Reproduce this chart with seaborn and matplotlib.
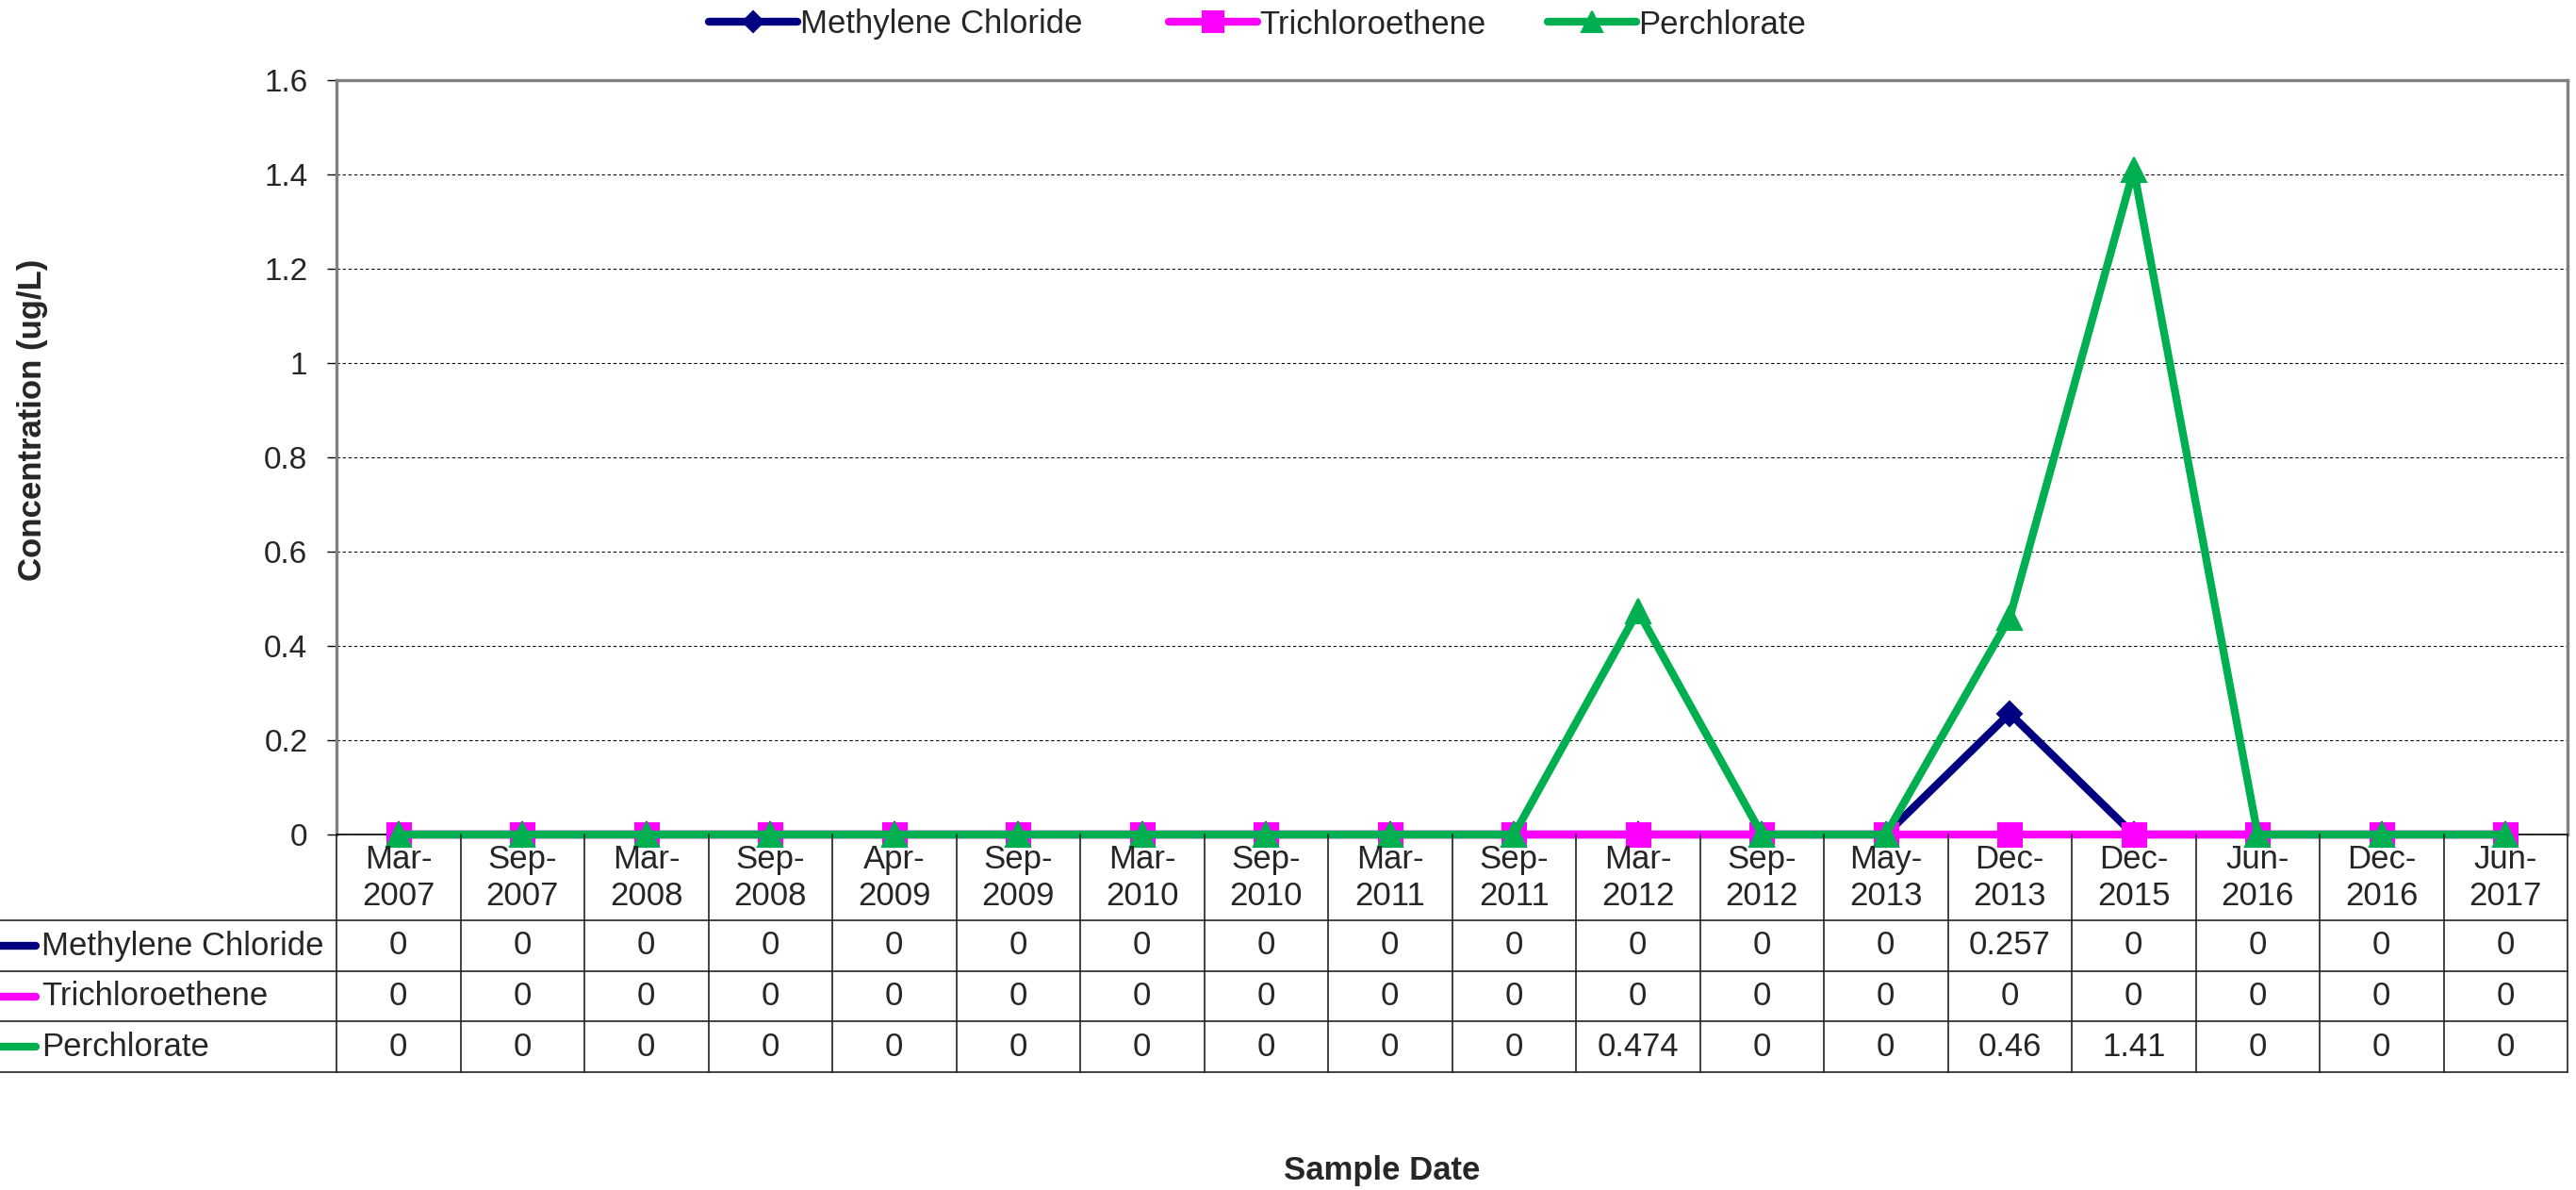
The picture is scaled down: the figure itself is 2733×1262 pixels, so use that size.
import numpy as np
import pandas as pd
import matplotlib
matplotlib.use("Agg")
import matplotlib.pyplot as plt
from matplotlib.lines import Line2D
from matplotlib.ticker import FuncFormatter
from matplotlib.transforms import blended_transform_factory
import seaborn as sns

# ---- data -------------------------------------------------------------
sample_dates = ["Mar-2007", "Sep-2007", "Mar-2008", "Sep-2008", "Apr-2009",
                "Sep-2009", "Mar-2010", "Sep-2010", "Mar-2011", "Sep-2011",
                "Mar-2012", "Sep-2012", "May-2013", "Dec-2013", "Dec-2015",
                "Jun-2016", "Dec-2016", "Jun-2017"]
methylene_chloride = [0, 0, 0, 0, 0, 0, 0, 0, 0, 0, 0, 0, 0, 0.257, 0, 0, 0, 0]
trichloroethene = [0, 0, 0, 0, 0, 0, 0, 0, 0, 0, 0, 0, 0, 0, 0, 0, 0, 0]
perchlorate = [0, 0, 0, 0, 0, 0, 0, 0, 0, 0, 0.474, 0, 0, 0.46, 1.41, 0, 0, 0]

series_names = ["Methylene Chloride", "Trichloroethene", "Perchlorate"]
series_values = [methylene_chloride, trichloroethene, perchlorate]
series_colors = ["#000080", "#FF00FF", "#00B050"]
series_markers = ["D", "s", "^"]
series_msize = [13.5, 18, 19]

y_ticks = [0, 0.2, 0.4, 0.6, 0.8, 1.0, 1.2, 1.4, 1.6]

# ---- figure geometry (pixels) ----------------------------------------
W, H, DPI = 2733, 1262, 100


def fx(px):
    return px / W


def fy(py):
    return 1 - py / H


sns.set_style("white")
plt.rcParams["font.family"] = ["Liberation Sans", "DejaVu Sans"]

fig = plt.figure(figsize=(W / DPI, H / DPI), dpi=DPI)
ax = fig.add_axes([fx(357), fy(885), (2724 - 357) / W, (885 - 85) / H])

positions = np.arange(len(sample_dates))
for z, (name, vals, col, mk, ms) in enumerate(zip(series_names, series_values,
                                                  series_colors, series_markers,
                                                  series_msize)):
    df = pd.DataFrame({"pos": positions, "value": vals})
    sns.lineplot(data=df, x="pos", y="value", color=col, marker=mk,
                 markersize=ms, mec=col, mew=1.5, linewidth=6,
                 errorbar=None, legend=False, ax=ax, label=name)
    ax.lines[-1].set_clip_on(False)
    ax.lines[-1].set_zorder(4 + z)

ax.set_xlim(-0.5, len(sample_dates) - 0.5)
ax.set_ylim(0, 1.6)
ax.set_yticks(y_ticks)
ax.yaxis.set_major_formatter(FuncFormatter(lambda v, _: f"{round(v, 1):g}"))
ax.set_xticks([])
ax.set_xlabel("")
ax.set_ylabel("")
ax.tick_params(axis="y", direction="out", length=7, width=1, color="black",
               labelsize=24, pad=15, left=True)
ax.yaxis.grid(True, color="black", linestyle=(0, (3, 2.5)), linewidth=0.8)
ax.set_axisbelow(True)
for side in ("top", "right", "left"):
    ax.spines[side].set_color("#808080")
    ax.spines[side].set_linewidth(2.4)
ax.spines["bottom"].set_color("black")
ax.spines["bottom"].set_linewidth(1.2)

# ---- data table below the axes ---------------------------------------
trans = blended_transform_factory(ax.transData, fig.transFigure)
for k in range(len(sample_dates) + 1):
    fig.add_artist(Line2D([k - 0.5, k - 0.5], [fy(885), fy(1137)],
                          transform=trans, color="#222222", lw=1.2))
for py in (976, 1030, 1083, 1137):
    fig.add_artist(Line2D([0, fx(2724)], [fy(py), fy(py)],
                          transform=fig.transFigure, color="#222222", lw=1.2))

for i, d in enumerate(sample_dates):
    mon, yr = d.split("-")
    fig.text(i, fy(931), f"{mon}-\n{yr}", transform=trans, ha="center",
             va="center", fontsize=25, linespacing=1.22)

row_centers = [1003, 1056.5, 1110]
for name, vals, col, rc in zip(series_names, series_values, series_colors,
                               row_centers):
    fig.add_artist(Line2D([fx(-10), fx(38)], [fy(rc), fy(rc)],
                          transform=fig.transFigure, color=col, lw=6,
                          solid_capstyle="round"))
    fig.text(fx(44), fy(rc), name, ha="left", va="center", fontsize=25)
    for i, v in enumerate(vals):
        fig.text(i, fy(rc), f"{v:g}", transform=trans, ha="center",
                 va="center", fontsize=25)

# ---- legend (one entry per slot) and axis titles ---------------------
legend_left_px = [752, 1240, 1642]
for name, col, mk, ms, x0 in zip(series_names, series_colors, series_markers,
                                 series_msize, legend_left_px):
    handle = Line2D([], [], color=col, lw=6, marker=mk, markersize=ms * 0.85,
                    mec=col, mew=1.5)
    fig.legend([handle], [name], loc="center left", frameon=False,
               bbox_to_anchor=(fx(x0), fy(26)), fontsize=25, handlelength=2.7,
               handletextpad=0.08, borderpad=0, borderaxespad=0)

fig.text(fx(35), fy(445), "Concentration (ug/L)", rotation=90, ha="center",
         va="center", fontsize=25, fontweight="bold")
fig.text(fx(1466), fy(1241), "Sample Date", ha="center", va="center",
         fontsize=25, fontweight="bold")

fig.savefig("out.png", dpi=DPI)
